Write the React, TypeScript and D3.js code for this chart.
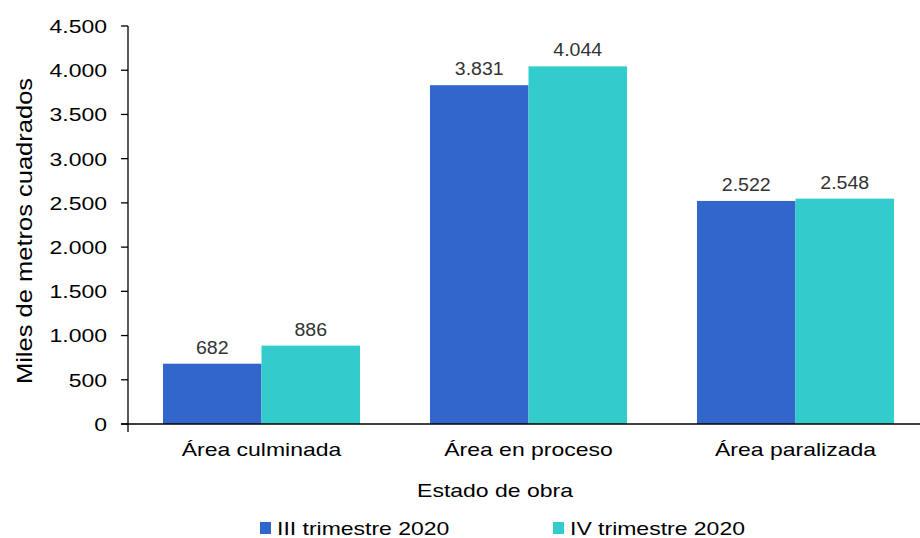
import React from "react";
import * as d3 from "d3";

const categories = ["Área culminada", "Área en proceso", "Área paralizada"];
const seriesNames = ["III trimestre 2020", "IV trimestre 2020"];
const seriesIII = [682, 3831, 2522];
const seriesIV = [886, 4044, 2548];
const yTicks = [0, 500, 1000, 1500, 2000, 2500, 3000, 3500, 4000, 4500];
const colors = ["#3366CC", "#33CCCC"];

const W = 920;
const H = 538;
const FONT = "'Liberation Sans', Arial, sans-serif";
const SX = 1.21;

const fmt = (v: number) => {
  const s = String(Math.round(v));
  return s.replace(/\B(?=(\d{3})+(?!\d))/g, ".");
};

type TProps = {
  x: number;
  y: number;
  anchor?: "start" | "middle" | "end";
  size?: number;
  sx?: number;
  rotate?: number;
  fill?: string;
  dy?: string;
  children: React.ReactNode;
};

function T({ x, y, anchor = "start", size = 19, sx = SX, rotate = 0, fill = "#000", dy, children }: TProps) {
  return (
    <text
      transform={`translate(${x},${y}) rotate(${rotate}) scale(${sx},1)`}
      textAnchor={anchor}
      fontFamily={FONT}
      fontSize={size}
      fill={fill}
      dy={dy}
    >
      {children}
    </text>
  );
}

export default function App() {
  const x0 = d3.scaleBand<string>().domain(categories).range([128, 929]).paddingInner(0).paddingOuter(0);
  const x1 = d3
    .scaleBand<string>()
    .domain(seriesNames)
    .range([0, x0.bandwidth()])
    .paddingInner(0)
    .paddingOuter(0.355);
  const y = d3.scaleLinear().domain([0, 4500]).range([424, 26]);
  const series = [seriesIII, seriesIV];

  return (
    <svg width={W} height={H} style={{ position: "absolute", left: 0, top: 0, background: "#fff" }}>
      {categories.map((c, i) => (
        <g key={c}>
          {seriesNames.map((s, j) => {
            const v = series[j][i];
            const bx = (x0(c) ?? 0) + (x1(s) ?? 0);
            return (
              <g key={s}>
                <rect x={bx} y={y(v)} width={x1.bandwidth()} height={y(0) - y(v)} fill={colors[j]} />
                <T x={bx + x1.bandwidth() / 2} y={y(v) - 10} anchor="middle" size={19} sx={1.03} fill="#333">
                  {fmt(v)}
                </T>
              </g>
            );
          })}
        </g>
      ))}
      {/* y axis */}
      <line x1={128} x2={128} y1={26} y2={432} stroke="#000" strokeWidth={1.3} />
      {yTicks.map((t) => (
        <g key={t}>
          <line x1={121} x2={128} y1={y(t)} y2={y(t)} stroke="#000" strokeWidth={1.3} />
          <T x={107} y={y(t)} dy="0.36em" anchor="end">
            {fmt(t)}
          </T>
        </g>
      ))}
      {/* x axis */}
      <line x1={121} x2={W} y1={424} y2={424} stroke="#000" strokeWidth={1.3} />
      {categories.map((c) => (
        <T key={c} x={(x0(c) ?? 0) + x0.bandwidth() / 2} y={456} anchor="middle">
          {c}
        </T>
      ))}
      {/* titles */}
      <T x={32} y={231} anchor="middle" rotate={-90} size={22} sx={1.16}>
        Miles de metros cuadrados
      </T>
      <T x={495} y={497} anchor="middle">
        Estado de obra
      </T>
      {/* legend */}
      {seriesNames.map((s, j) => {
        const lx = j === 0 ? 260 : 553;
        return (
          <g key={s}>
            <rect x={lx} y={522} width={11} height={12} fill={colors[j]} />
            <T x={lx + 17} y={535}>
              {s}
            </T>
          </g>
        );
      })}
    </svg>
  );
}
